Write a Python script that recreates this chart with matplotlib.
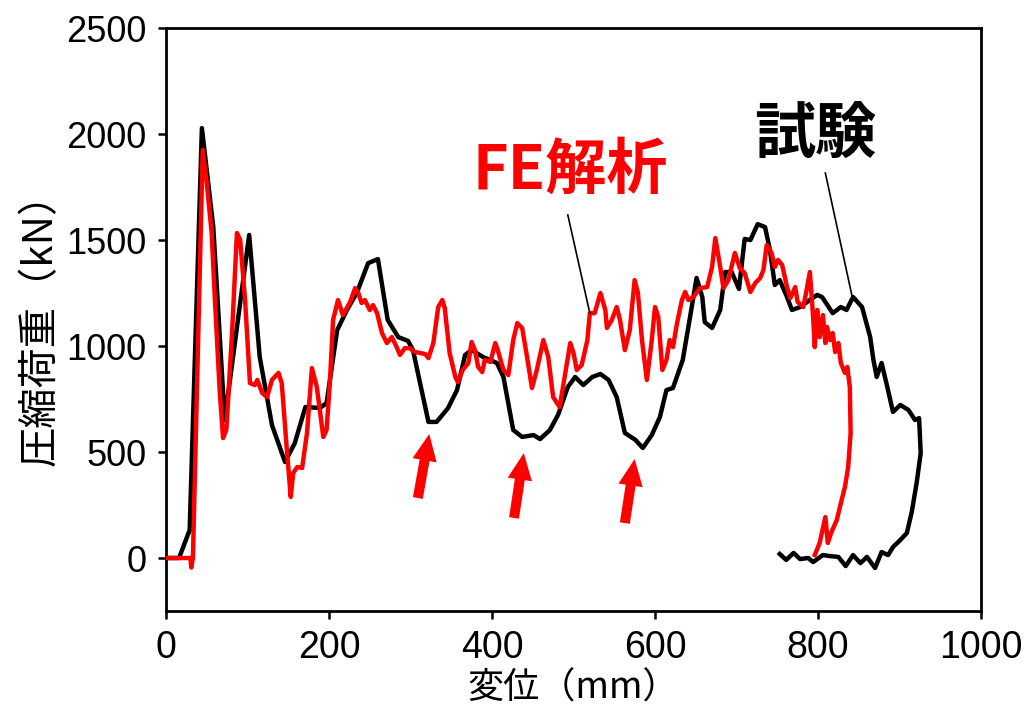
import matplotlib
matplotlib.use("Agg")
import matplotlib.pyplot as plt

# Test (試験) load-displacement curve
test_x = [0, 16, 29, 44, 58, 72, 102, 115, 130, 146, 158, 171, 189, 197, 210, 222, 234,
          248, 260, 272, 285, 297, 303, 322, 332, 346, 357, 367, 375, 389, 406, 414,
          426, 437, 451, 459, 471, 481, 493, 502, 512, 523, 533, 543, 553, 563, 576,
          585, 596, 606, 614, 622, 634, 643, 651, 658, 661, 670, 680, 686, 694, 703,
          710, 717, 726, 735, 741, 747, 753, 762, 768, 778, 790, 799, 805, 818, 828,
          835, 843, 854, 864, 868, 872, 878, 885, 892, 901, 911, 919, 924, 926, 921,
          915, 909, 901, 892, 886, 878, 870, 860, 852, 843, 834, 825, 815, 806, 794,
          788, 778, 770, 761, 753]
test_y = [0, 0, 132, 2028, 1561, 651, 1524, 948, 627, 453, 542, 712, 708, 731, 1075,
          1170, 1250, 1391, 1410, 1123, 1042, 1024, 981, 642, 642, 707, 792, 958, 981,
          948, 920, 854, 604, 571, 580, 561, 604, 675, 807, 854, 816, 854, 868, 840,
          759, 590, 557, 519, 580, 665, 792, 802, 934, 1137, 1321, 1231, 1113, 1085,
          1170, 1349, 1349, 1269, 1505, 1500, 1575, 1561, 1453, 1288, 1311, 1231, 1170,
          1184, 1217, 1241, 1231, 1155, 1184, 1170, 1231, 1184, 1042, 934, 854, 920,
          807, 689, 722, 698, 651, 660, 495, 354, 217, 118, 85, 52, 14, 28, -47, 5,
          -24, 14, -38, 5, 9, 14, -19, 0, -5, 24, -9, 19]

# FE analysis (FE解析) load-displacement curve
fe_x = [0, 30, 31, 33, 45, 50, 56, 60, 66, 70, 74, 81, 87, 91, 97, 103, 109, 112, 118,
        124, 130, 138, 142, 148, 153, 156, 161, 167, 173, 179, 185, 193, 197, 201, 205,
        211, 217, 226, 232, 236, 240, 244, 250, 254, 259, 265, 271, 277, 283, 287, 293,
        299, 305, 312, 318, 322, 328, 334, 339, 342, 348, 355, 358, 364, 371, 375, 379,
        383, 388, 391, 398, 404, 407, 414, 420, 426, 431, 437, 443, 449, 455, 463, 469,
        475, 483, 490, 496, 500, 504, 510, 517, 520, 526, 533, 539, 541, 547, 553, 557,
        563, 569, 575, 579, 584, 590, 596, 600, 604, 609, 614, 618, 622, 627, 633, 637,
        641, 647, 655, 664, 670, 674, 680, 684, 690, 698, 704, 710, 717, 723, 729, 733,
        737, 743, 747, 751, 756, 762, 766, 772, 775, 782, 786, 790, 794, 796, 799, 802,
        806, 809, 811, 815, 818, 821, 825, 828, 833, 836, 839, 840, 837, 833, 829, 823,
        816, 812, 809, 802, 796]
fe_y = [0, 0, -45, 0, 1925, 1769, 1533, 1217, 778, 566, 604, 1061, 1533, 1500, 1217,
        825, 816, 840, 778, 759, 840, 873, 825, 524, 288, 401, 429, 425, 590, 896, 807,
        571, 604, 825, 1123, 1217, 1146, 1208, 1273, 1250, 1203, 1217, 1170, 1193, 1155,
        1061, 1014, 1042, 995, 958, 990, 990, 972, 967, 962, 943, 1014, 1184, 1217, 1179,
        967, 854, 830, 887, 920, 1019, 981, 901, 877, 934, 925, 1014, 981, 887, 863,
        1028, 1108, 1085, 948, 802, 887, 1028, 948, 759, 712, 873, 1014, 967, 887, 910,
        1028, 1155, 1155, 1250, 1170, 1085, 1123, 1184, 1123, 981, 1075, 1311, 1250,
        1028, 840, 1028, 1184, 1137, 887, 934, 1028, 995, 1108, 1217, 1255, 1217, 1231,
        1273, 1278, 1373, 1509, 1373, 1273, 1311, 1439, 1368, 1344, 1255, 1297, 1321,
        1358, 1476, 1439, 1373, 1406, 1382, 1278, 1226, 1278, 1208, 1184, 1264, 1349,
        1137, 995, 1170, 1042, 1146, 1014, 1090, 1028, 1061, 972, 1014, 920, 873, 901,
        807, 590, 429, 335, 274, 179, 118, 71, 193, 71, 14]

# Up arrows marking the local buckling points: (tail x, tail y, tip x, tip y)
arrows = [(309, 283, 323, 585), (427, 189, 439, 495), (563, 165, 575, 467)]

x_ticks = [0, 200, 400, 600, 800, 1000]
y_ticks = [0, 500, 1000, 1500, 2000, 2500]

cjk = ["Noto Sans CJK JP", "DejaVu Sans"]
num_font = ["Liberation Sans", "DejaVu Sans"]

fig = plt.figure(figsize=(10.28, 7.19), dpi=100)
ax = fig.add_axes([0.1615, 0.1502, 0.7928, 0.8108])

ax.plot(test_x, test_y, color="black", lw=3.2, solid_joinstyle="round", zorder=3)
ax.plot(fe_x, fe_y, color="#ff0000", lw=3.2, solid_joinstyle="round", zorder=4)

for tx, ty, hx, hy in arrows:
    ax.annotate("", xy=(hx, hy), xytext=(tx, ty),
                arrowprops=dict(arrowstyle="simple,head_length=1.2,head_width=1.1,tail_width=0.45",
                                mutation_scale=16, color="#ff0000", lw=0,
                                shrinkA=0, shrinkB=0), zorder=5)

# Series labels with leader lines
ax.text(796, 1995, "試験", family=cjk, fontsize=44, fontweight="bold",
        color="black", ha="center", va="center", zorder=6)
ax.plot([809, 842], [1816, 1231], color="black", lw=1.2, zorder=6)

ax.text(496, 1825, "FE解析", family=cjk, fontsize=44, fontweight="bold",
        color="#ff0000", ha="center", va="center", zorder=6)
ax.plot([493, 520], [1618, 1155], color="black", lw=1.2, zorder=6)

ax.set_xlim(0, 1000)
ax.set_ylim(-250, 2500)
ax.set_xticks(x_ticks)
ax.set_yticks(y_ticks)
ax.set_xticklabels([str(v) for v in x_ticks], family=num_font, fontsize=27)
ax.set_yticklabels([str(v) for v in y_ticks], family=num_font, fontsize=26)
ax.tick_params(axis="both", direction="out", length=6, width=1.8)
ax.tick_params(axis="x", pad=8)
ax.tick_params(axis="y", pad=8)
for s in ax.spines.values():
    s.set_linewidth(2.0)

ax.set_xlabel("変位（mm）", family=cjk, fontsize=26, labelpad=3)
ax.set_ylabel("圧縮荷重（kN）", family=cjk, fontsize=29, labelpad=4)

fig.savefig("out.png", dpi=100)
